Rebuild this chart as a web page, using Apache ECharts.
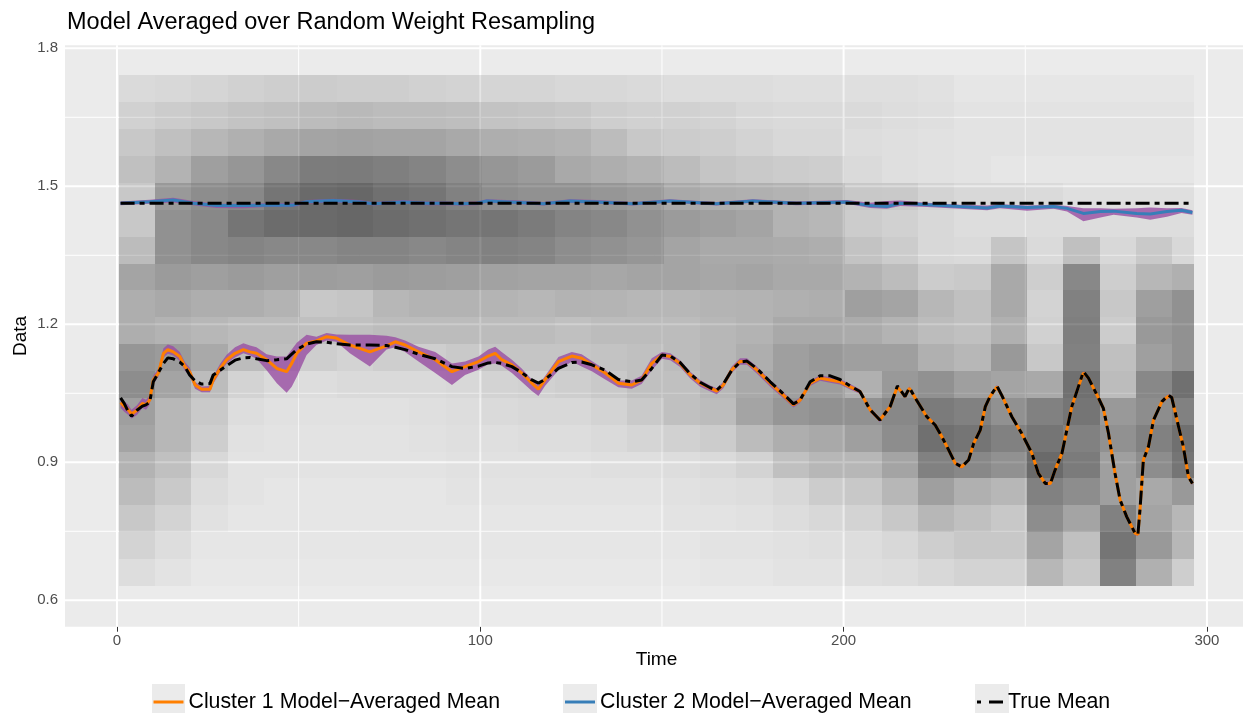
<!DOCTYPE html>
<html><head><meta charset="utf-8">
<script src="https://cdn.jsdelivr.net/npm/echarts@6/dist/echarts.min.js"></script>
<style>html,body{margin:0;padding:0;background:#fff}#c{width:1243px;height:713px}</style>
</head><body><div id="c"></div>
<script>
// ---------- tick labels / grid breaks ----------
const xMajor = [0, 100, 200, 300];
const xMinor = [50, 150, 250];
const yMajor = [0.6, 0.9, 1.2, 1.5, 1.8];
const yMinor = [0.75, 1.05, 1.35, 1.65];
const xTickLabels = ['0', '100', '200', '300'];
const yTickLabels = ['0.6', '0.9', '1.2', '1.5', '1.8'];

// ---------- heat map of resampled data (time blocks x data bins) ----------
const timeEdges = [0.5,10.5,20.5,30.5,40.5,50.5,60.5,70.5,80.5,90.5,100.5,110.5,120.5,130.5,140.5,150.5,160.5,170.5,180.5,190.5,200.5,210.5,220.5,230.5,240.5,250.5,260.5,270.5,280.5,290.5,296.5];
const binCenters = [0.660,0.719,0.777,0.836,0.894,0.952,1.011,1.069,1.128,1.186,1.245,1.303,1.361,1.420,1.478,1.537,1.595,1.654,1.712];
const density = [
 [0.06,0.03,0.01,0.01,0.01,0.01,0.01,0.01,0.01,0.01,0.01,0.01,0.01,0.01,0.01,0.01,0.02,0.02,0.03,0.03,0.05,0.06,0.08,0.10,0.10,0.22,0.15,0.45,0.25,0.12],
 [0.10,0.06,0.02,0.02,0.02,0.02,0.02,0.02,0.02,0.02,0.02,0.02,0.02,0.02,0.02,0.02,0.03,0.03,0.04,0.05,0.06,0.08,0.12,0.15,0.15,0.30,0.18,0.50,0.35,0.22],
 [0.15,0.10,0.04,0.02,0.02,0.02,0.02,0.02,0.02,0.02,0.02,0.02,0.02,0.02,0.02,0.03,0.03,0.04,0.06,0.08,0.10,0.15,0.22,0.18,0.15,0.40,0.30,0.45,0.30,0.22],
 [0.20,0.14,0.06,0.03,0.02,0.02,0.02,0.02,0.02,0.03,0.03,0.03,0.03,0.03,0.03,0.04,0.05,0.06,0.08,0.13,0.15,0.22,0.32,0.25,0.22,0.45,0.40,0.32,0.28,0.35],
 [0.24,0.18,0.08,0.03,0.03,0.03,0.03,0.03,0.03,0.04,0.04,0.04,0.04,0.05,0.05,0.06,0.07,0.10,0.18,0.22,0.22,0.30,0.45,0.42,0.38,0.55,0.48,0.32,0.40,0.50],
 [0.30,0.22,0.12,0.04,0.03,0.03,0.03,0.03,0.04,0.05,0.05,0.06,0.06,0.07,0.09,0.11,0.13,0.20,0.26,0.28,0.32,0.40,0.52,0.50,0.45,0.50,0.45,0.38,0.45,0.52],
 [0.32,0.22,0.14,0.06,0.04,0.04,0.04,0.04,0.05,0.06,0.07,0.08,0.08,0.10,0.14,0.18,0.20,0.30,0.36,0.38,0.38,0.42,0.48,0.45,0.38,0.45,0.50,0.35,0.40,0.45],
 [0.40,0.30,0.20,0.10,0.07,0.06,0.07,0.07,0.07,0.08,0.10,0.11,0.12,0.14,0.18,0.18,0.22,0.28,0.32,0.33,0.25,0.35,0.38,0.32,0.30,0.28,0.52,0.20,0.42,0.52],
 [0.36,0.34,0.28,0.20,0.18,0.12,0.10,0.12,0.12,0.14,0.16,0.16,0.16,0.17,0.18,0.20,0.22,0.26,0.32,0.35,0.32,0.32,0.25,0.22,0.35,0.15,0.45,0.18,0.32,0.38],
 [0.26,0.24,0.22,0.20,0.20,0.18,0.18,0.20,0.20,0.20,0.20,0.20,0.18,0.20,0.20,0.20,0.22,0.24,0.28,0.28,0.27,0.24,0.20,0.18,0.25,0.11,0.46,0.13,0.35,0.38],
 [0.26,0.28,0.26,0.26,0.24,0.15,0.16,0.22,0.24,0.24,0.23,0.22,0.24,0.23,0.22,0.22,0.23,0.24,0.25,0.26,0.32,0.30,0.22,0.18,0.28,0.10,0.45,0.15,0.32,0.38],
 [0.30,0.34,0.32,0.34,0.32,0.33,0.32,0.34,0.33,0.32,0.31,0.30,0.30,0.29,0.30,0.30,0.29,0.30,0.28,0.28,0.24,0.20,0.13,0.14,0.28,0.12,0.42,0.12,0.22,0.25],
 [0.20,0.38,0.42,0.44,0.42,0.42,0.44,0.44,0.42,0.44,0.45,0.44,0.40,0.38,0.36,0.30,0.28,0.28,0.27,0.26,0.17,0.13,0.08,0.07,0.16,0.07,0.18,0.08,0.14,0.08],
 [0.15,0.38,0.42,0.50,0.54,0.55,0.56,0.54,0.52,0.50,0.50,0.48,0.44,0.42,0.38,0.34,0.32,0.30,0.24,0.22,0.13,0.11,0.08,0.06,0.06,0.06,0.06,0.06,0.06,0.06],
 [0.15,0.35,0.40,0.42,0.50,0.55,0.56,0.52,0.50,0.45,0.40,0.38,0.38,0.36,0.34,0.28,0.26,0.25,0.24,0.22,0.15,0.14,0.10,0.08,0.08,0.07,0.05,0.05,0.05,0.05],
 [0.18,0.24,0.32,0.36,0.42,0.47,0.48,0.46,0.44,0.40,0.36,0.34,0.28,0.26,0.24,0.20,0.16,0.14,0.13,0.12,0.07,0.05,0.04,0.03,0.02,0.02,0.02,0.02,0.02,0.02],
 [0.15,0.18,0.22,0.25,0.28,0.30,0.31,0.30,0.30,0.28,0.26,0.25,0.24,0.20,0.15,0.13,0.12,0.10,0.08,0.08,0.06,0.05,0.04,0.03,0.03,0.03,0.03,0.03,0.03,0.03],
 [0.11,0.13,0.15,0.17,0.18,0.20,0.21,0.20,0.20,0.19,0.17,0.16,0.15,0.12,0.11,0.11,0.10,0.08,0.07,0.07,0.07,0.06,0.05,0.03,0.03,0.03,0.03,0.03,0.03,0.03],
 [0.07,0.08,0.09,0.11,0.12,0.13,0.12,0.12,0.11,0.10,0.09,0.09,0.08,0.08,0.07,0.06,0.06,0.06,0.05,0.05,0.05,0.05,0.04,0.02,0.02,0.02,0.02,0.02,0.02,0.02]
];

// ---------- cluster 1 (lower) ----------
const c1Time = [1,2,3,4,5.5,7,8,9,10,11.4,12.8,14,15.5,17.3,18.7,20,21.5,23.3,25.6,26.5,28.4,30.2,32.5,34.8,36.6,38.4,41.2,44,46.7,48.1,49.5,52.2,54.9,57.7,60.4,64.1,69.6,74.2,76.6,79.3,83,87.6,92.2,95.8,99.5,102.2,104.1,105.9,108.7,111.4,114.2,116,117.8,121.5,125.2,127.9,130.7,134.4,138,141.7,144.4,147.2,150,152.3,155,157.8,160.5,163.3,165.1,166.9,169.2,171.5,173.4,176.1,179.8,183.4,186.2,188,190.8,193.5,196.3,199,201.8,204.5,207.3,210,212.8,214.8,216.9,218.1,220.1,222.9,225.2,227,228.9,230.7,232.5,234.4,235.8,237.6,239,240.3,242.2,243.5,246.3,249,251.8,253.6,255.5,256.9,258.2,260.1,262.8,264.6,266,267.4,270.2,271.5,272.9,274.7,276.1,277.9,280.2,281,281.6,282.5,283.9,285.3,287.6,289.4,290.3,292.2,293.5,294.9,296];
const c1Mean = [1.030,1.022,1.015,1.005,1.013,1.028,1.025,1.035,1.079,1.094,1.137,1.145,1.140,1.130,1.108,1.097,1.068,1.059,1.059,1.079,1.104,1.123,1.137,1.145,1.140,1.137,1.123,1.104,1.097,1.115,1.137,1.159,1.164,1.173,1.170,1.155,1.140,1.153,1.162,1.155,1.140,1.123,1.097,1.108,1.119,1.131,1.137,1.123,1.112,1.094,1.072,1.059,1.079,1.119,1.131,1.126,1.112,1.094,1.072,1.068,1.079,1.115,1.133,1.130,1.115,1.090,1.072,1.061,1.055,1.068,1.101,1.119,1.119,1.101,1.072,1.046,1.025,1.035,1.072,1.083,1.079,1.075,1.064,1.054,1.014,0.992,1.021,1.064,1.043,1.061,1.035,0.999,0.981,0.956,0.927,0.898,0.890,0.905,0.941,0.970,1.021,1.043,1.064,1.046,0.999,0.963,0.920,0.876,0.854,0.854,0.883,0.920,1.021,1.064,1.094,1.083,1.039,1.017,0.963,0.876,0.818,0.782,0.746,0.743,0.800,0.905,0.934,0.992,1.032,1.044,1.041,0.977,0.934,0.869,0.854];
const c1Lower = [1.018,1.010,1.004,0.995,1.003,1.018,1.014,1.025,1.070,1.086,1.128,1.136,1.132,1.120,1.099,1.088,1.060,1.052,1.052,1.071,1.096,1.115,1.128,1.137,1.132,1.125,1.100,1.072,1.051,1.064,1.086,1.133,1.155,1.165,1.162,1.137,1.108,1.145,1.150,1.140,1.119,1.094,1.068,1.090,1.101,1.113,1.115,1.110,1.094,1.075,1.055,1.044,1.066,1.100,1.119,1.108,1.098,1.080,1.063,1.060,1.070,1.100,1.125,1.122,1.107,1.082,1.064,1.054,1.048,1.061,1.094,1.112,1.112,1.093,1.064,1.039,1.019,1.029,1.066,1.077,1.073,1.069,1.058,1.049,1.009,0.987,1.016,1.060,1.039,1.057,1.031,0.995,0.977,0.952,0.923,0.894,0.886,0.901,0.937,0.966,1.017,1.039,1.060,1.042,0.995,0.959,0.916,0.872,0.850,0.850,0.879,0.916,1.017,1.060,1.090,1.079,1.035,1.013,0.959,0.872,0.814,0.778,0.742,0.739,0.796,0.901,0.930,0.988,1.028,1.040,1.037,0.973,0.930,0.865,0.850];
const c1Upper = [1.040,1.032,1.026,1.014,1.024,1.040,1.036,1.045,1.088,1.104,1.148,1.156,1.152,1.140,1.118,1.106,1.075,1.065,1.066,1.087,1.114,1.134,1.150,1.159,1.154,1.150,1.135,1.130,1.130,1.145,1.160,1.177,1.173,1.181,1.178,1.177,1.177,1.175,1.172,1.165,1.151,1.140,1.115,1.119,1.130,1.145,1.151,1.140,1.123,1.104,1.080,1.068,1.087,1.129,1.140,1.135,1.120,1.101,1.078,1.078,1.088,1.126,1.140,1.137,1.122,1.097,1.079,1.067,1.061,1.075,1.108,1.126,1.126,1.108,1.079,1.053,1.031,1.041,1.078,1.089,1.085,1.081,1.070,1.059,1.019,0.997,1.026,1.068,1.047,1.065,1.039,1.003,0.985,0.960,0.931,0.902,0.894,0.909,0.945,0.974,1.025,1.047,1.068,1.050,1.003,0.967,0.924,0.880,0.858,0.858,0.887,0.924,1.025,1.068,1.098,1.087,1.043,1.021,0.967,0.880,0.822,0.786,0.750,0.747,0.804,0.909,0.938,0.996,1.036,1.048,1.045,0.981,0.938,0.873,0.858];
const trueMean1 = [1.040,1.028,1.012,1.000,1.013,1.022,1.025,1.030,1.075,1.095,1.115,1.127,1.125,1.118,1.108,1.090,1.077,1.070,1.071,1.090,1.100,1.110,1.122,1.127,1.128,1.125,1.121,1.123,1.125,1.135,1.145,1.157,1.162,1.161,1.158,1.155,1.155,1.154,1.150,1.145,1.135,1.125,1.108,1.104,1.109,1.116,1.117,1.115,1.108,1.095,1.079,1.072,1.080,1.104,1.117,1.118,1.112,1.100,1.080,1.075,1.079,1.104,1.133,1.131,1.117,1.092,1.074,1.062,1.057,1.070,1.100,1.118,1.120,1.104,1.075,1.049,1.027,1.035,1.075,1.088,1.088,1.080,1.066,1.054,1.014,0.992,1.021,1.066,1.043,1.062,1.035,0.999,0.981,0.956,0.927,0.898,0.890,0.905,0.941,0.970,1.021,1.043,1.066,1.046,0.999,0.963,0.920,0.876,0.854,0.854,0.883,0.920,1.021,1.064,1.097,1.083,1.039,1.017,0.963,0.876,0.818,0.782,0.746,0.743,0.800,0.905,0.934,0.992,1.032,1.046,1.041,0.977,0.934,0.869,0.854];

// ---------- cluster 2 (upper) ----------
const c2Time = [1,9,15.5,21,27.4,34.8,41.2,48.5,52.2,59.5,66.9,70.5,78.8,85.2,90.7,94.4,99,101.8,111,117.4,124.7,132,142,152.2,165,175,187,200.9,207.3,211.9,215.6,223,232,239.5,243,250.5,257.8,261.5,266,270.7,274.3,280.7,284.4,289,293,296];
const c2Mean = [1.463,1.4665,1.470,1.463,1.458,1.458,1.459,1.459,1.4665,1.469,1.466,1.462,1.466,1.463,1.463,1.462,1.463,1.468,1.465,1.462,1.468,1.466,1.462,1.468,1.462,1.468,1.463,1.466,1.458,1.456,1.463,1.460,1.456,1.453,1.457,1.454,1.456,1.452,1.441,1.445,1.446,1.441,1.440,1.445,1.448,1.443];
const c2Lower = [1.459,1.462,1.465,1.459,1.453,1.452,1.455,1.455,1.462,1.465,1.462,1.458,1.462,1.459,1.459,1.458,1.459,1.464,1.461,1.458,1.464,1.462,1.458,1.464,1.458,1.464,1.459,1.462,1.453,1.451,1.457,1.455,1.451,1.448,1.452,1.447,1.451,1.445,1.424,1.432,1.438,1.432,1.427,1.434,1.442,1.438];
const c2Upper = [1.467,1.471,1.475,1.468,1.462,1.462,1.463,1.463,1.470,1.473,1.470,1.466,1.470,1.467,1.467,1.466,1.467,1.472,1.469,1.466,1.472,1.470,1.466,1.472,1.466,1.472,1.467,1.470,1.464,1.468,1.469,1.464,1.460,1.458,1.461,1.458,1.460,1.457,1.452,1.452,1.451,1.452,1.454,1.452,1.453,1.448];
const trueMean2Time = [1, 296];
const trueMean2 = [1.463, 1.463];

const legendNames = ['Cluster 1 Model\u2212Averaged Mean', 'Cluster 2 Model\u2212Averaged Mean', 'True Mean'];

// ---------- layout constants ----------
const X_MIN = -14.3, X_MAX = 311.3, Y_MIN = 0.5426, Y_MAX = 1.8065;
const FONT = 'Liberation Sans, Arial, sans-serif';

// row edges = midpoints between neighbouring bin centres (shared, so no seams)
const nB = binCenters.length;
const rowLow = binCenters.map((c, r) => r === 0 ? c - (binCenters[1] - c) / 2 : (binCenters[r - 1] + c) / 2);
const rowHigh = binCenters.map((c, r) => r === nB - 1 ? c + (c - binCenters[r - 1]) / 2 : (c + binCenters[r + 1]) / 2);
const heatItems = [];
for (let r = 0; r < nB; r++)
  for (let c = 0; c < timeEdges.length - 1; c++)
    heatItems.push([timeEdges[c], timeEdges[c + 1], rowLow[r], rowHigh[r], density[r][c]]);

const zip = (xs, ys) => xs.map((x, i) => [x, ys[i]]);

function ribbonSeries(ts, lo, hi) {
  return {
    type: 'custom', z: 3, silent: true,
    data: [[ts[0], lo[0]]],
    renderItem: (params, api) => {
      const pts = [];
      for (let i = 0; i < ts.length; i++) pts.push(api.coord([ts[i], hi[i]]));
      for (let i = ts.length - 1; i >= 0; i--) pts.push(api.coord([ts[i], lo[i]]));
      return { type: 'polygon', shape: { points: pts }, style: { fill: 'rgba(152,78,163,0.8)' } };
    }
  };
}

function gridSeries(values, isX, width) {
  return {
    type: 'custom', z: 1, silent: true,
    data: values.map(v => isX ? [v, Y_MIN] : [X_MIN, v]),
    renderItem: (params, api) => {
      const cs = params.coordSys;
      const p = api.coord([api.value(0), api.value(1)]);
      const shape = isX
        ? { x1: p[0], y1: cs.y, x2: p[0], y2: cs.y + cs.height }
        : { x1: cs.x, y1: p[1], x2: cs.x + cs.width, y2: p[1] };
      return { type: 'line', shape, style: { stroke: '#ffffff', lineWidth: width } };
    }
  };
}

const DASHDOT = [14, 5, 5, 5];
const LEG_TOP = 691.5;
const legendText = { fontFamily: FONT, fontSize: 21.3, color: '#000' };
const lineIcon = 'path://M0,0H30V3H0Z';
const dotDashIcon = 'path://M0,0H4V3H0Z M12,0H26V3H12Z';
const legendBase = { orient: 'horizontal', padding: 0, top: LEG_TOP, itemHeight: 3, textStyle: legendText };

const chart = echarts.init(document.getElementById('c'));
chart.setOption({
  animation: false,
  backgroundColor: '#ffffff',
  title: {
    text: 'Model Averaged over Random Weight Resampling',
    left: 62, top: 6,
    textStyle: { fontFamily: FONT, fontSize: 23.5, fontWeight: 'normal', color: '#000' }
  },
  grid: {
    left: 65, top: 45.3, width: 1183, height: 581.4,
    show: true, backgroundColor: '#EBEBEB', borderWidth: 0,
    containLabel: false, outerBoundsMode: 'none'
  },
  xAxis: {
    type: 'value', min: X_MIN, max: X_MAX,
    name: 'Time', nameLocation: 'middle', nameGap: 24, nameMoveOverlap: false,
    nameTextStyle: { fontFamily: FONT, fontSize: 19, color: '#000' },
    axisLine: { show: false },
    splitLine: { show: false },
    axisTick: { show: true, customValues: xMajor, length: 5, lineStyle: { color: '#333333', width: 1 } },
    axisLabel: { customValues: xMajor, formatter: v => xTickLabels[xMajor.indexOf(v)], margin: 7,
      fontFamily: FONT, fontSize: 15, color: '#4D4D4D' }
  },
  yAxis: {
    type: 'value', min: Y_MIN, max: Y_MAX,
    name: 'Data', nameLocation: 'middle', nameGap: 35, nameRotate: 90, nameMoveOverlap: false,
    nameTextStyle: { fontFamily: FONT, fontSize: 19, color: '#000' },
    axisLine: { show: false },
    splitLine: { show: false },
    axisTick: { show: true, customValues: yMajor, length: 5, lineStyle: { color: '#333333', width: 1 } },
    axisLabel: { customValues: yMajor, formatter: v => yTickLabels[yMajor.indexOf(v)], margin: 7,
      fontFamily: FONT, fontSize: 15, color: '#4D4D4D' }
  },
  legend: [
    Object.assign({}, legendBase, { data: [{ name: legendNames[0], icon: lineIcon }], left: 153.5, itemWidth: 30 }),
    Object.assign({}, legendBase, { data: [{ name: legendNames[1], icon: lineIcon }], left: 565, itemWidth: 30 }),
    Object.assign({}, legendBase, { data: [{ name: legendNames[2], icon: dotDashIcon }], left: 977, itemWidth: 26 })
  ],
  graphic: [
    { type: 'rect', left: 152, top: 684, shape: { width: 33, height: 33 }, style: { fill: '#EBEBEB' }, z: -1 },
    { type: 'rect', left: 563, top: 684, shape: { width: 34, height: 33 }, style: { fill: '#EBEBEB' }, z: -1 },
    { type: 'rect', left: 975, top: 684, shape: { width: 34, height: 33 }, style: { fill: '#EBEBEB' }, z: -1 }
  ],
  series: [
    gridSeries(xMinor, true, 1),
    gridSeries(yMinor, false, 1),
    gridSeries(xMajor, true, 2),
    gridSeries(yMajor, false, 2),
    {
      type: 'custom', z: 2, silent: true,
      data: heatItems,
      encode: { x: [0, 1], y: [2, 3] },
      renderItem: (params, api) => {
        const p0 = api.coord([api.value(0), api.value(3)]);
        const p1 = api.coord([api.value(1), api.value(2)]);
        const x0 = Math.round(p0[0]), y0 = Math.round(p0[1]);
        const x1 = Math.round(p1[0]), y1 = Math.round(p1[1]);
        return { type: 'rect', shape: { x: x0, y: y0, width: x1 - x0, height: y1 - y0 },
          style: { fill: 'rgba(0,0,0,' + api.value(4) + ')' } };
      }
    },
    ribbonSeries(c1Time, c1Lower, c1Upper),
    ribbonSeries(c2Time, c2Lower, c2Upper),
    { name: legendNames[0], type: 'line', z: 5, symbol: 'none', silent: true,
      data: zip(c1Time, c1Mean), lineStyle: { color: '#FF7F00', width: 3 }, itemStyle: { color: '#FF7F00' } },
    { name: legendNames[1], type: 'line', z: 5, symbol: 'none', silent: true,
      data: zip(c2Time, c2Mean), lineStyle: { color: '#377EB8', width: 3 }, itemStyle: { color: '#377EB8' } },
    { name: legendNames[2], type: 'line', z: 6, symbol: 'none', silent: true,
      data: zip(c1Time, trueMean1), lineStyle: { color: '#000', width: 3, type: DASHDOT }, itemStyle: { color: '#000' } },
    { name: legendNames[2], type: 'line', z: 6, symbol: 'none', silent: true,
      data: zip(trueMean2Time, trueMean2), lineStyle: { color: '#000', width: 3, type: DASHDOT }, itemStyle: { color: '#000' } }
  ]
});
</script>
</body></html>
